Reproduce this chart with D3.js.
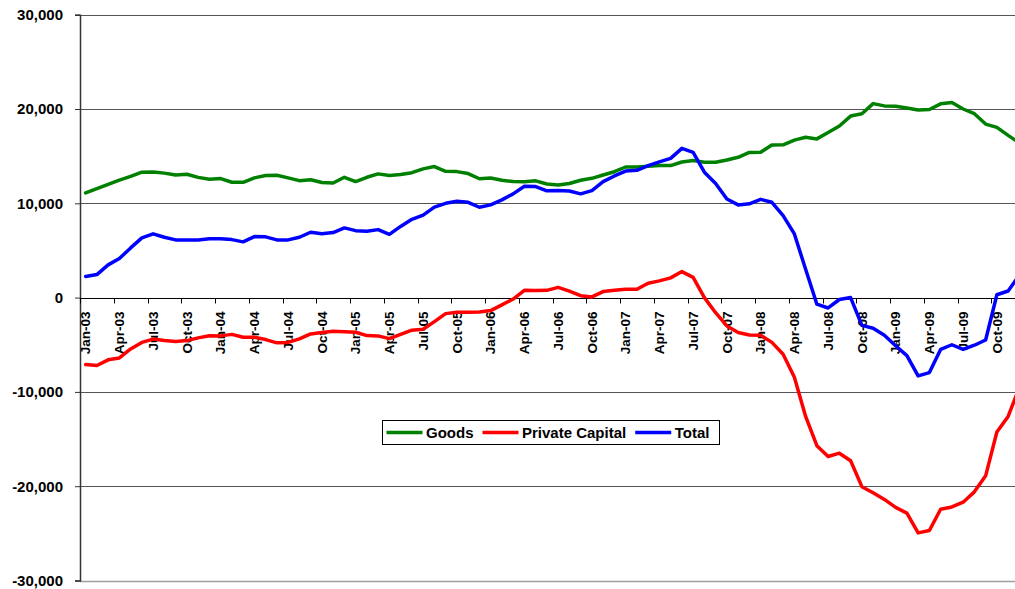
<!DOCTYPE html>
<html>
<head>
<meta charset="utf-8">
<script src="https://cdn.jsdelivr.net/npm/d3@7"></script>
<style>
  body { margin: 0; background: #fff; }
  svg { display: block; font-family: Arial, "Liberation Sans", sans-serif; }
  .axis-label { font-weight: bold; fill: #000; }
</style>
</head>
<body>
<div id="chart"></div>
<script>
// Monthly data, Jan-03 .. Dec-09
const years = ["03", "04", "05", "06", "07", "08", "09"];
const monthNames = ["Jan", "Feb", "Mar", "Apr", "May", "Jun", "Jul", "Aug", "Sep", "Oct", "Nov", "Dec"];
const months = years.flatMap((y) => monthNames.map((m) => `${m}-${y}`));

const goods = [
  11100, 11550, 12000, 12450, 12850, 13300, 13330, 13200, 13000, 13080, 12750, 12550,
  12620, 12230, 12230, 12700, 12950, 12970, 12700, 12400, 12500, 12200, 12150, 12760,
  12300, 12760, 13120, 12950, 13050, 13250, 13650, 13900, 13390, 13360, 13150, 12600,
  12690, 12450, 12300, 12280, 12380, 12050, 11950, 12100, 12450, 12650, 13000, 13350,
  13850, 13860, 13920, 14000, 14000, 14380, 14530, 14350, 14350, 14600, 14880, 15400,
  15410, 16190, 16200, 16700, 17000, 16830, 17500, 18200, 19250, 19500, 20570, 20330,
  20300, 20100, 19900, 19950, 20550, 20700, 20000, 19500, 18400, 18050, 17200, 16400
];

const privateCapital = [
  -7100, -7200, -6600, -6400, -5450, -4750, -4400, -4550, -4650, -4560, -4270, -4050,
  -4060, -3900, -4210, -4210, -4450, -4800, -4750, -4380, -3850, -3700, -3570, -3610,
  -3680, -4030, -4060, -4350, -3900, -3450, -3360, -2550, -1700, -1560, -1560, -1520,
  -1380, -770, -150, 770, 740, 770, 1090, 680, 200, 70, 640, 770,
  880, 880, 1520, 1770, 2090, 2760, 2150, 0, -1600, -3000, -3700, -3960,
  -4000, -4750, -6000, -8450, -12600, -15700, -16850, -16500, -17300, -20050, -20700, -21400,
  -22250, -22850, -24950, -24700, -22450, -22200, -21700, -20600, -18900, -14250, -12600, -9500
];

const total = [
  2230, 2440, 3470, 4140, 5270, 6330, 6760, 6400, 6120, 6120, 6120, 6230,
  6230, 6150, 5910, 6470, 6440, 6120, 6120, 6400, 6930, 6780, 6900, 7390,
  7100, 7030, 7210, 6710, 7550, 8300, 8750, 9600, 10000, 10210, 10100, 9580,
  9830, 10360, 11000, 11800, 11770, 11320, 11350, 11300, 11000, 11350, 12300, 12900,
  13420, 13500, 14000, 14400, 14770, 15830, 15400, 13300, 12100, 10450, 9830, 9950,
  10420, 10110, 8700, 6750, 3000, -700, -1100, -200, 0, -2950, -3250, -4000,
  -5100, -6150, -8300, -7950, -5500, -5000, -5500, -5050, -4500, 300, 700, 2400
];

const seriesNames = ["Goods", "Private Capital", "Total"];
const seriesColors = ["#008000", "#ff0000", "#0000ff"];
const yTicks = [-30000, -20000, -10000, 0, 10000, 20000, 30000];

const width = 1015, height = 589;
const plot = { left: 80, right: 1025, top: 14.7, bottom: 580.5 };

const svg = d3.select("#chart").append("svg")
  .attr("width", width)
  .attr("height", height);

const x = d3.scaleBand().domain(months).range([plot.left, plot.right]).padding(0);
const y = d3.scaleLinear().domain([-30000, 30000]).range([plot.bottom, plot.top]);
const cx = (m) => x(m) + x.bandwidth() / 2;

// Horizontal gridlines
svg.append("g")
  .selectAll("line")
  .data(yTicks.filter((d) => d !== 0))
  .join("line")
  .attr("x1", plot.left)
  .attr("x2", plot.right)
  .attr("y1", (d) => Math.round(y(d)) + 0.5)
  .attr("y2", (d) => Math.round(y(d)) + 0.5)
  .attr("stroke", (d) => (d === -30000 ? "#a0a0a0" : "#555"))
  .attr("stroke-width", (d) => (d === -30000 ? 1.5 : 1));

// Y axis (plain hyphen for negatives, like the original)
const fmt = d3.format(",");
const yAxis = svg.append("g")
  .attr("transform", `translate(${plot.left},0)`)
  .call(d3.axisLeft(y).tickValues(yTicks).tickSize(5).tickPadding(12)
    .tickFormat((d) => fmt(d).replace("\u2212", "-")));
yAxis.select(".domain").attr("stroke", "#333").attr("stroke-width", 1.5);
yAxis.selectAll(".tick line").attr("stroke", "#333");
yAxis.selectAll(".tick text")
  .attr("class", "axis-label")
  .style("font-size", "15px")
  .style("font-family", "Arial, 'Liberation Sans', sans-serif");

// X axis at zero
const y0 = Math.round(y(0)) + 0.5;
svg.append("line")
  .attr("x1", plot.left).attr("x2", plot.right)
  .attr("y1", y0).attr("y2", y0)
  .attr("stroke", "#000").attr("stroke-width", 1);

const labelMonths = months.filter((d, i) => i % 3 === 0);
svg.append("g")
  .selectAll("line")
  .data(labelMonths)
  .join("line")
  .attr("x1", (d) => Math.round(x(d)) + 0.5)
  .attr("x2", (d) => Math.round(x(d)) + 0.5)
  .attr("y1", y0)
  .attr("y2", y0 + 5)
  .attr("stroke", "#000");

svg.append("g")
  .selectAll("text")
  .data(labelMonths)
  .join("text")
  .attr("class", "axis-label")
  .attr("transform", (d) => `translate(${cx(d)},${y0 + 13}) rotate(-90)`)
  .attr("dy", "0.35em")
  .attr("text-anchor", "end")
  .style("font-size", "13.5px")
  .text((d) => d);

// Lines
const lineData = [goods, privateCapital, total].map((values, i) => ({
  name: seriesNames[i],
  color: seriesColors[i],
  points: values.map((v, j) => ({ month: months[j], value: v })),
}));

const line = d3.line()
  .x((d) => cx(d.month))
  .y((d) => y(d.value));

svg.append("g")
  .selectAll("path")
  .data(lineData)
  .join("path")
  .attr("d", (d) => line(d.points))
  .attr("fill", "none")
  .attr("stroke", (d) => d.color)
  .attr("stroke-width", 3.5)
  .attr("stroke-linejoin", "round")
  .attr("stroke-linecap", "round");

// Legend
const legend = svg.append("g").attr("transform", "translate(382.5,420.5)");
legend.append("rect")
  .attr("width", 337)
  .attr("height", 24)
  .attr("fill", "#fff")
  .attr("stroke", "#000")
  .attr("stroke-width", 1);

let offset = 4;
lineData.forEach((s) => {
  legend.append("line")
    .attr("x1", offset).attr("x2", offset + 36)
    .attr("y1", 12).attr("y2", 12)
    .attr("stroke", s.color)
    .attr("stroke-width", 3.5);
  const t = legend.append("text")
    .attr("class", "axis-label")
    .attr("x", offset + 39.5)
    .attr("y", 17.5)
    .style("font-size", "15px")
    .text(s.name);
  offset += 39.5 + t.node().getComputedTextLength() + 9;
});
</script>
</body>
</html>
